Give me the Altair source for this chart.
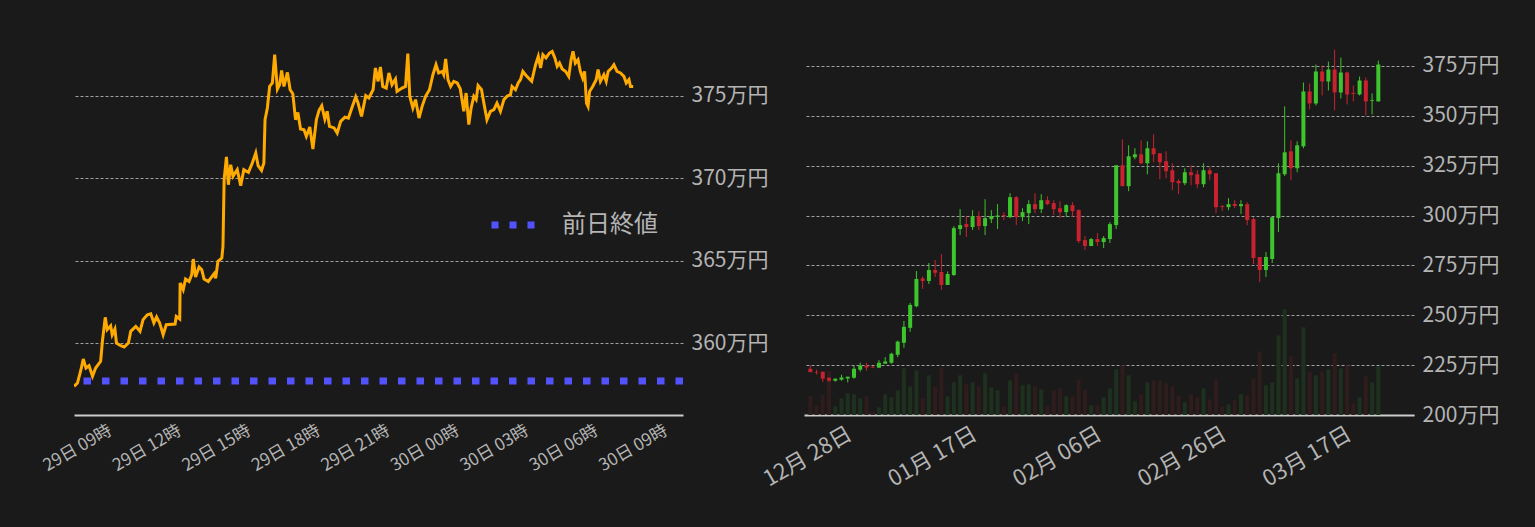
import altair as alt
import pandas as pd

FONT = "Noto Sans CJK JP"
BG = "#1a1a1a"
LABEL = "#b4b4b4"
GRID = "#a0a0a0"

# ---------------- left: intraday price (minutes since 29日 00:00, 万円) ----------------
intraday_minutes = [
    457, 466, 475, 481, 488, 496, 505, 513, 526, 531,
    538, 543, 552, 556, 563, 567, 578, 587, 598, 604,
    617, 628, 636, 647, 656, 664, 671, 679, 688, 696,
    719, 722, 731, 732, 740, 746, 755, 762, 766, 772,
    781, 788, 794, 805, 820, 824, 830, 840, 843, 846,
    852, 857, 863, 869, 880, 889, 897, 909, 919, 928,
    934, 943, 949, 952, 958, 964, 971, 977, 984, 990,
    995, 1001, 1010, 1017, 1024, 1031, 1037, 1044, 1053, 1059,
    1068, 1076, 1085, 1092, 1099, 1107, 1113, 1119, 1131, 1139,
    1148, 1159, 1168, 1176, 1187, 1193, 1202, 1213, 1221, 1232,
    1238, 1245, 1251, 1257, 1266, 1273, 1281, 1290, 1294, 1307,
    1316, 1322, 1327, 1335, 1342, 1351, 1359, 1368, 1378, 1387,
    1395, 1402, 1411, 1415, 1420, 1426, 1433, 1441, 1450, 1458,
    1467, 1473, 1480, 1486, 1493, 1499, 1504, 1513, 1519, 1527,
    1536, 1545, 1553, 1562, 1571, 1579, 1588, 1592, 1601, 1608,
    1614, 1620, 1629, 1643, 1653, 1660, 1666, 1672, 1680, 1689,
    1696, 1703, 1709, 1715, 1722, 1731, 1739, 1745, 1750, 1756,
    1763, 1769, 1775, 1780, 1785, 1789, 1793, 1801, 1810, 1815,
    1821, 1830, 1836, 1841, 1850, 1856, 1864, 1873, 1882, 1888,
    1895, 1899, 1906,
]
intraday_values = [
    357.37, 357.57, 358.38, 359.03, 358.48, 358.62, 357.98, 358.48, 358.89, 360.2,
    361.56, 360.81, 361.05, 360.5, 360.85, 360.0, 359.84, 359.76, 360.0, 360.71,
    361.01, 360.71, 361.42, 361.72, 361.78, 361.22, 361.58, 361.22, 360.5, 361.11,
    361.15, 361.62, 361.46, 363.65, 363.24, 363.89, 363.74, 364.15, 365.1, 364.01,
    364.62, 364.45, 363.89, 363.74, 364.21, 363.93, 364.96, 365.16, 365.87, 369.92,
    371.3, 369.61, 370.83, 370.12, 370.53, 369.55, 370.53, 370.36, 370.93, 371.54,
    370.77, 370.48, 370.93, 373.56, 374.27, 375.58, 375.79, 377.51, 375.42, 375.69,
    376.55, 375.58, 376.43, 375.38, 375.14, 373.56, 374.0, 373.0, 372.95, 372.55,
    373.12, 371.78, 373.56, 374.13, 374.41, 373.6, 374.07, 373.15, 373.06, 372.75,
    373.46, 373.72, 373.66, 374.21, 374.94, 374.57, 373.76, 375.02, 374.88, 375.38,
    376.7, 375.89, 376.76, 375.58, 375.48, 376.4, 375.69, 376.03, 375.28, 375.48,
    375.58, 377.57, 374.98, 374.27, 374.78, 373.66, 374.37, 374.98, 375.38, 376.29,
    376.9, 376.4, 376.49, 376.29, 377.25, 375.99, 375.58, 375.89, 375.79, 375.43,
    374.07, 375.18, 373.26, 374.27, 374.98, 374.78, 375.63, 375.38, 374.57, 373.56,
    374.07, 374.17, 374.57, 374.07, 374.78, 374.98, 375.08, 375.58, 375.38, 375.79,
    375.99, 376.49, 376.23, 375.89, 376.9, 377.4, 376.7, 377.51, 377.31, 377.61,
    377.71, 377.31, 376.8, 377.0, 376.64, 376.49, 376.19, 377.2, 377.71, 377.0,
    377.2, 376.49, 376.09, 376.49, 374.57, 374.37, 375.28, 375.58, 375.99, 376.6,
    375.89, 376.29, 375.89, 376.49, 376.7, 376.9, 376.49, 376.4, 376.19, 375.79,
    375.99, 375.58, 375.58,
]
prev_close = 357.7
prev_close_label = "前日終値"
intraday_ticks = [540, 720, 900, 1080, 1260, 1440, 1620, 1800, 1980]
intraday_y_ticks = [360, 365, 370, 375]

# ---------------- right: daily candles (万円) ----------------
first_day = "2023-12-22 12:00"
opens = [
    223.2, 221.6, 221.7, 218.7, 217.2, 217.7, 218.3, 218.7, 222.7, 224.8,
    224.2, 223.7, 225.7, 226.2, 230.2, 236.2, 243.7, 254.5, 268.5, 267.2,
    272.7, 271.7, 265.2, 270.2, 293.2, 295.7, 294.2, 299.7, 294.7, 298.2,
    299.3, 300.2, 299.2, 309.2, 299.2, 301.2, 305.7, 303.2, 307.7, 306.2,
    303.7, 301.7, 305.2, 302.7, 287.7, 284.7, 288.2, 286.7, 288.2, 295.2,
    325.2, 314.7, 329.2, 330.7, 326.2, 333.7, 331.2, 327.2, 322.7, 317.3,
    316.2, 321.7, 320.7, 315.7, 322.7, 321.2, 304.8, 304.2, 305.8, 304.7,
    305.7, 298.2, 279.2, 272.7, 278.2, 298.7, 320.7, 332.2, 323.7, 334.7,
    362.2, 356.2, 372.2, 367.2, 373.2, 361.7, 371.7, 361.5, 360.7, 367.7,
    357.4, 357.2,
]
highs = [
    224.8, 222.7, 221.7, 218.8, 218.3, 220.2, 219.2, 224.8, 226.2, 226.2,
    224.5, 227.5, 229.0, 231.2, 237.3, 247.2, 256.2, 272.2, 269.5, 276.2,
    277.7, 280.7, 272.0, 294.7, 303.2, 299.8, 302.7, 302.2, 308.2, 302.7,
    305.7, 301.7, 311.2, 309.7, 303.7, 307.7, 311.2, 310.7, 309.7, 307.7,
    307.2, 305.7, 306.7, 303.2, 289.7, 288.7, 291.2, 289.7, 296.7, 325.2,
    338.2, 335.2, 333.8, 337.7, 337.2, 340.7, 331.2, 332.2, 326.2, 318.2,
    323.7, 325.2, 322.7, 326.2, 324.2, 321.2, 305.2, 308.7, 307.7, 307.7,
    306.7, 299.2, 279.2, 281.7, 299.2, 326.2, 354.7, 337.7, 337.2, 366.7,
    366.2, 375.7, 375.2, 377.2, 383.2, 379.2, 372.2, 365.2, 369.7, 369.2,
    361.2, 377.7,
]
lows = [
    221.5, 220.3, 216.5, 216.7, 216.7, 217.2, 216.3, 218.2, 221.8, 222.2,
    223.5, 223.7, 225.7, 225.7, 229.0, 233.7, 241.7, 254.0, 263.2, 265.7,
    269.2, 262.7, 265.2, 269.7, 290.2, 289.2, 292.7, 292.7, 290.2, 296.2,
    293.2, 297.7, 298.7, 295.2, 297.2, 295.7, 301.2, 301.2, 305.2, 300.2,
    298.7, 299.2, 299.2, 286.2, 282.7, 284.7, 284.7, 283.7, 286.2, 293.2,
    314.7, 312.2, 328.2, 325.7, 320.7, 326.7, 318.2, 318.7, 312.7, 310.7,
    315.2, 315.2, 313.7, 314.2, 317.7, 301.2, 302.2, 302.7, 303.7, 300.8,
    295.2, 275.7, 266.7, 269.2, 276.2, 291.7, 319.8, 317.7, 321.7, 333.7,
    353.2, 355.2, 360.2, 362.7, 352.7, 358.7, 355.7, 357.2, 360.2, 350.2,
    350.7, 357.2,
]
closes = [
    221.5, 221.3, 218.2, 217.2, 218.2, 218.8, 219.2, 223.2, 224.7, 223.8,
    223.8, 226.2, 226.8, 230.7, 236.8, 244.2, 255.2, 268.2, 267.2, 272.7,
    271.3, 265.2, 270.7, 293.7, 295.2, 294.2, 299.7, 294.7, 298.7, 299.7,
    300.0, 299.7, 309.2, 299.2, 301.7, 305.7, 303.2, 307.7, 305.7, 303.2,
    301.7, 305.2, 302.2, 287.2, 284.7, 288.2, 286.7, 288.7, 295.7, 325.2,
    314.7, 329.7, 330.7, 326.2, 333.7, 330.7, 326.7, 322.2, 316.7, 316.2,
    321.7, 320.2, 315.7, 322.7, 320.7, 304.2, 304.3, 305.7, 304.8, 305.7,
    297.7, 278.7, 272.7, 279.2, 299.2, 321.2, 331.7, 323.7, 335.2, 362.2,
    356.2, 372.2, 367.2, 373.2, 361.7, 371.7, 360.7, 361.0, 367.7, 357.2,
    357.8, 375.7,
]
volumes = [
    190, 97, 200, 440, 87, 167, 217, 207, 167, 187,
    37, 77, 207, 177, 247, 467, 287, 447, 167, 397,
    287, 477, 187, 327, 397, 307, 327, 287, 417, 277,
    247, 87, 347, 417, 297, 307, 287, 257, 87, 247,
    267, 187, 187, 357, 257, 97, 97, 177, 267, 457,
    497, 397, 137, 207, 327, 347, 347, 317, 287, 197,
    127, 207, 177, 267, 157, 357, 87, 107, 147, 207,
    197, 367, 637, 297, 327, 797, 1057, 587, 367, 877,
    437, 397, 437, 457, 617, 467, 497, 117, 177, 387,
    327, 487,
]
daily_ticks = [(2023, 12, 28), (2024, 1, 17), (2024, 2, 6), (2024, 2, 26), (2024, 3, 17)]
daily_y_ticks = [200, 225, 250, 275, 300, 325, 350, 375]

UP, DOWN = "#3ec42c", "#c8222f"
VUP, VDOWN = "#1e301e", "#2f1c1c"

# ---------------- page background (dark page around the chart) ----------------
try:
    import altair.utils.html as _alt_html

    class _DarkPage:
        def __init__(self, base):
            self.base = base

        def render(self, *args, **kw):
            html = self.base.render(*args, **kw)
            css = "body { background: %s; }" % BG
            if "<style>" in html:
                return html.replace("<style>", "<style>\n    " + css, 1)
            if "</head>" in html:
                return html.replace("</head>", "<style>" + css + "</style></head>", 1)
            return "<style>" + css + "</style>" + html

    _alt_html.TEMPLATES["standard"] = _DarkPage(_alt_html.TEMPLATES["standard"])
except Exception:
    pass

# ---------------- left chart ----------------
intraday = pd.DataFrame({"m": intraday_minutes, "v": intraday_values})
prev = pd.DataFrame({"v": [prev_close], "name": [prev_close_label]})

ly_scale = alt.Scale(domain=[355.63, 378.4], nice=False, zero=False)
lx = alt.X(
    "m:Q",
    scale=alt.Scale(domain=[457, 2035], nice=False, zero=False),
    axis=alt.Axis(
        values=intraday_ticks,
        labelExpr="(datum.value < 1440 ? '29' : '30') + '日 ' + format(floor(datum.value / 60) % 24, '02d') + '時'",
        labelAngle=-30, labelFontSize=17, labelColor=LABEL, labelFont=FONT,
        labelOverlap=False, labelBound=False,
        grid=False, ticks=False, domainColor="#cccccc", domainWidth=2,
        labelPadding=7, title=None,
    ),
)
line = alt.Chart(intraday).mark_line(color="#ffaa00", strokeWidth=3, clip=True).encode(
    x=lx,
    y=alt.Y(
        "v:Q", scale=ly_scale,
        axis=alt.Axis(
            orient="right", values=intraday_y_ticks, labelExpr="datum.value + '万円'",
            domain=False, ticks=False, grid=True, gridDash=[3, 2], gridColor=GRID,
            labelFontSize=21, labelColor=LABEL, labelFont=FONT, labelPadding=8, title=None,
        ),
    ),
)
rule = alt.Chart(prev).mark_rule(strokeDash=[7.5, 11], strokeWidth=7).encode(
    y=alt.Y("v:Q", scale=ly_scale),
    color=alt.Color(
        "name:N",
        scale=alt.Scale(domain=[prev_close_label], range=["#5252ff"]),
        legend=alt.Legend(
            title=None, orient="none", legendX=414, legendY=160, padding=0,
            symbolType="stroke", symbolSize=1849, symbolStrokeWidth=7, symbolDash=[7, 11],
            labelFontSize=24, labelColor=LABEL, labelFont=FONT, labelOffset=24,
        ),
    ),
)
left = alt.layer(line, rule).properties(width=609, height=375)

# ---------------- right chart ----------------
daily = pd.DataFrame({
    "date": pd.date_range(first_day, periods=len(opens), freq="D").strftime("%Y-%m-%dT%H:%M:%SZ"),
    "open": opens, "high": highs, "low": lows, "close": closes, "vol": volumes,
})
rx = alt.X(
    "date:T",
    scale=alt.Scale(
        type="utc", nice=False,
        domain=[alt.DateTime(year=2023, month=12, date=22, hours=7, utc=True),
                alt.DateTime(year=2024, month=3, date=27, hours=10, utc=True)],
    ),
    axis=alt.Axis(
        values=[alt.DateTime(year=y, month=m, date=d, utc=True) for (y, m, d) in daily_ticks],
        labelExpr="utcFormat(datum.value, '%m月 %d日')",
        labelAngle=-30, labelFontSize=22, labelColor=LABEL, labelFont=FONT,
        labelOverlap=False, labelBound=False,
        grid=False, ticks=False, domainColor="#cccccc", domainWidth=2,
        labelPadding=8, title=None,
    ),
)
ry_scale = alt.Scale(domain=[200, 388], nice=False, zero=False)
cond = alt.condition("datum.close >= datum.open", alt.value(UP), alt.value(DOWN))
vcond = alt.condition("datum.close >= datum.open", alt.value(VUP), alt.value(VDOWN))

vol = alt.Chart(daily).mark_bar(size=4, clip=True).encode(
    x=rx,
    y=alt.Y("vol:Q", scale=alt.Scale(domain=[0, 3750]), axis=None),
    color=vcond,
)
wick = alt.Chart(daily).mark_rule(strokeWidth=1, clip=True).encode(
    x=rx,
    y=alt.Y(
        "low:Q", scale=ry_scale,
        axis=alt.Axis(
            orient="right", values=daily_y_ticks, labelExpr="datum.value + '万円'",
            domain=False, ticks=False, grid=True, gridDash=[3, 2], gridColor=GRID,
            labelFontSize=21, labelColor=LABEL, labelFont=FONT, labelPadding=8, title=None,
        ),
    ),
    y2="high:Q",
    color=cond,
)
body = alt.Chart(daily).mark_bar(size=4, clip=True).encode(
    x=rx,
    y=alt.Y("open:Q", scale=ry_scale),
    y2="close:Q",
    color=cond,
)
right = alt.layer(vol, alt.layer(wick, body)).resolve_scale(y="independent").properties(width=610, height=375)

chart = (
    alt.hconcat(left, right, spacing=121, bounds="flush")
    .configure(background=BG, padding={"left": 32, "top": 32, "right": 5, "bottom": 5})
    .configure_view(stroke=None)
)
chart.save("out.html", embed_options={"renderer": "svg", "actions": False})
